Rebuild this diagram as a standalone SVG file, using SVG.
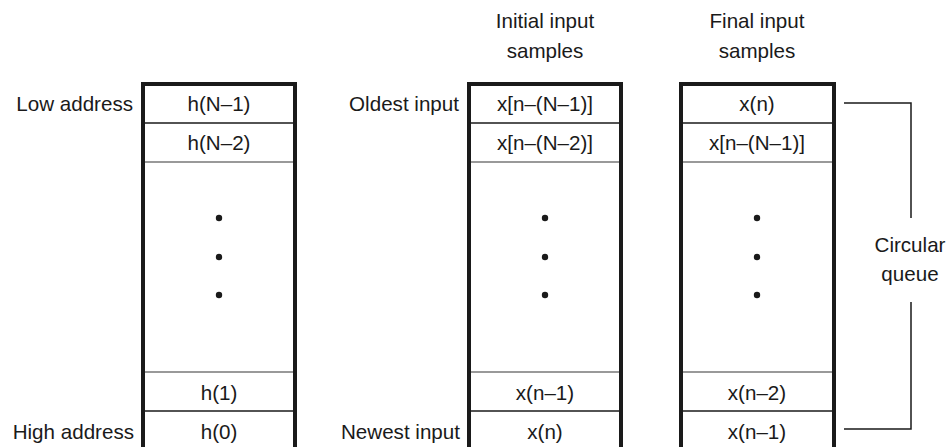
<svg xmlns="http://www.w3.org/2000/svg" width="950" height="447" viewBox="0 0 950 447">
  <style>
    text { font-family: "Liberation Sans", Arial, sans-serif; font-size: 20.6px; fill: #1a1a1a; }
    .c { text-anchor: middle; }
    .r { text-anchor: end; }
    .frame { fill: none; stroke: #1a1a1a; stroke-width: 4; }
    .div { stroke: #1a1a1a; stroke-width: 1.5; }
    .divg { stroke: #777; stroke-width: 1.5; }
    .dot { fill: #1a1a1a; }
    .br { fill: none; stroke: #1a1a1a; stroke-width: 1.5; }
  </style>
  <rect width="950" height="447" fill="#fff"/>

  <!-- Coefficient memory -->
  <g id="coeffs">
    <path class="frame" d="M143,449 V84 H295 V449"/>
    <line class="div" x1="145" y1="123" x2="293" y2="123"/>
    <line class="divg" x1="145" y1="162" x2="293" y2="162"/>
    <line class="divg" x1="145" y1="372" x2="293" y2="372"/>
    <line class="div" x1="145" y1="411" x2="293" y2="411"/>
    <text class="c" x="219" y="111">h(N–1)</text>
    <text class="c" x="219" y="150">h(N–2)</text>
    <circle class="dot" cx="219" cy="218" r="3.2"/>
    <circle class="dot" cx="219" cy="257" r="3.2"/>
    <circle class="dot" cx="219" cy="295" r="3.2"/>
    <text class="c" x="219" y="400">h(1)</text>
    <text class="c" x="219" y="439">h(0)</text>
    <text class="r" x="133" y="111">Low address</text>
    <text class="r" x="134" y="439">High address</text>
  </g>

  <!-- Initial input samples -->
  <g id="initial">
    <text class="c" x="545" y="28">Initial input</text>
    <text class="c" x="545" y="58">samples</text>
    <path class="frame" d="M469,449 V84 H621 V449"/>
    <line class="div" x1="471" y1="123" x2="619" y2="123"/>
    <line class="divg" x1="471" y1="162" x2="619" y2="162"/>
    <line class="divg" x1="471" y1="372" x2="619" y2="372"/>
    <line class="div" x1="471" y1="411" x2="619" y2="411"/>
    <text class="c" x="545" y="111">x[n–(N–1)]</text>
    <text class="c" x="545" y="150">x[n–(N–2)]</text>
    <circle class="dot" cx="545" cy="218" r="3.2"/>
    <circle class="dot" cx="545" cy="257" r="3.2"/>
    <circle class="dot" cx="545" cy="295" r="3.2"/>
    <text class="c" x="545" y="400">x(n–1)</text>
    <text class="c" x="545" y="439">x(n)</text>
    <text class="r" x="459" y="111">Oldest input</text>
    <text class="r" x="460" y="439">Newest input</text>
  </g>

  <!-- Final input samples -->
  <g id="final">
    <text class="c" x="757" y="28">Final input</text>
    <text class="c" x="757" y="58">samples</text>
    <path class="frame" d="M681,449 V84 H834 V449"/>
    <line class="div" x1="683" y1="123" x2="832" y2="123"/>
    <line class="divg" x1="683" y1="162" x2="832" y2="162"/>
    <line class="divg" x1="683" y1="372" x2="832" y2="372"/>
    <line class="div" x1="683" y1="411" x2="832" y2="411"/>
    <text class="c" x="757" y="111">x(n)</text>
    <text class="c" x="757" y="150">x[n–(N–1)]</text>
    <circle class="dot" cx="757" cy="218" r="3.2"/>
    <circle class="dot" cx="757" cy="257" r="3.2"/>
    <circle class="dot" cx="757" cy="295" r="3.2"/>
    <text class="c" x="757" y="400">x(n–2)</text>
    <text class="c" x="757" y="439">x(n–1)</text>
  </g>

  <!-- Bracket spanning the circular queue -->
  <g id="connectors">
    <path class="br" d="M844,103 H911 V218"/>
    <path class="br" d="M911,302 V429 H844"/>
  </g>
  <g id="queue-label">
    <text class="c" x="910" y="252">Circular</text>
    <text class="c" x="910" y="281">queue</text>
  </g>
</svg>
